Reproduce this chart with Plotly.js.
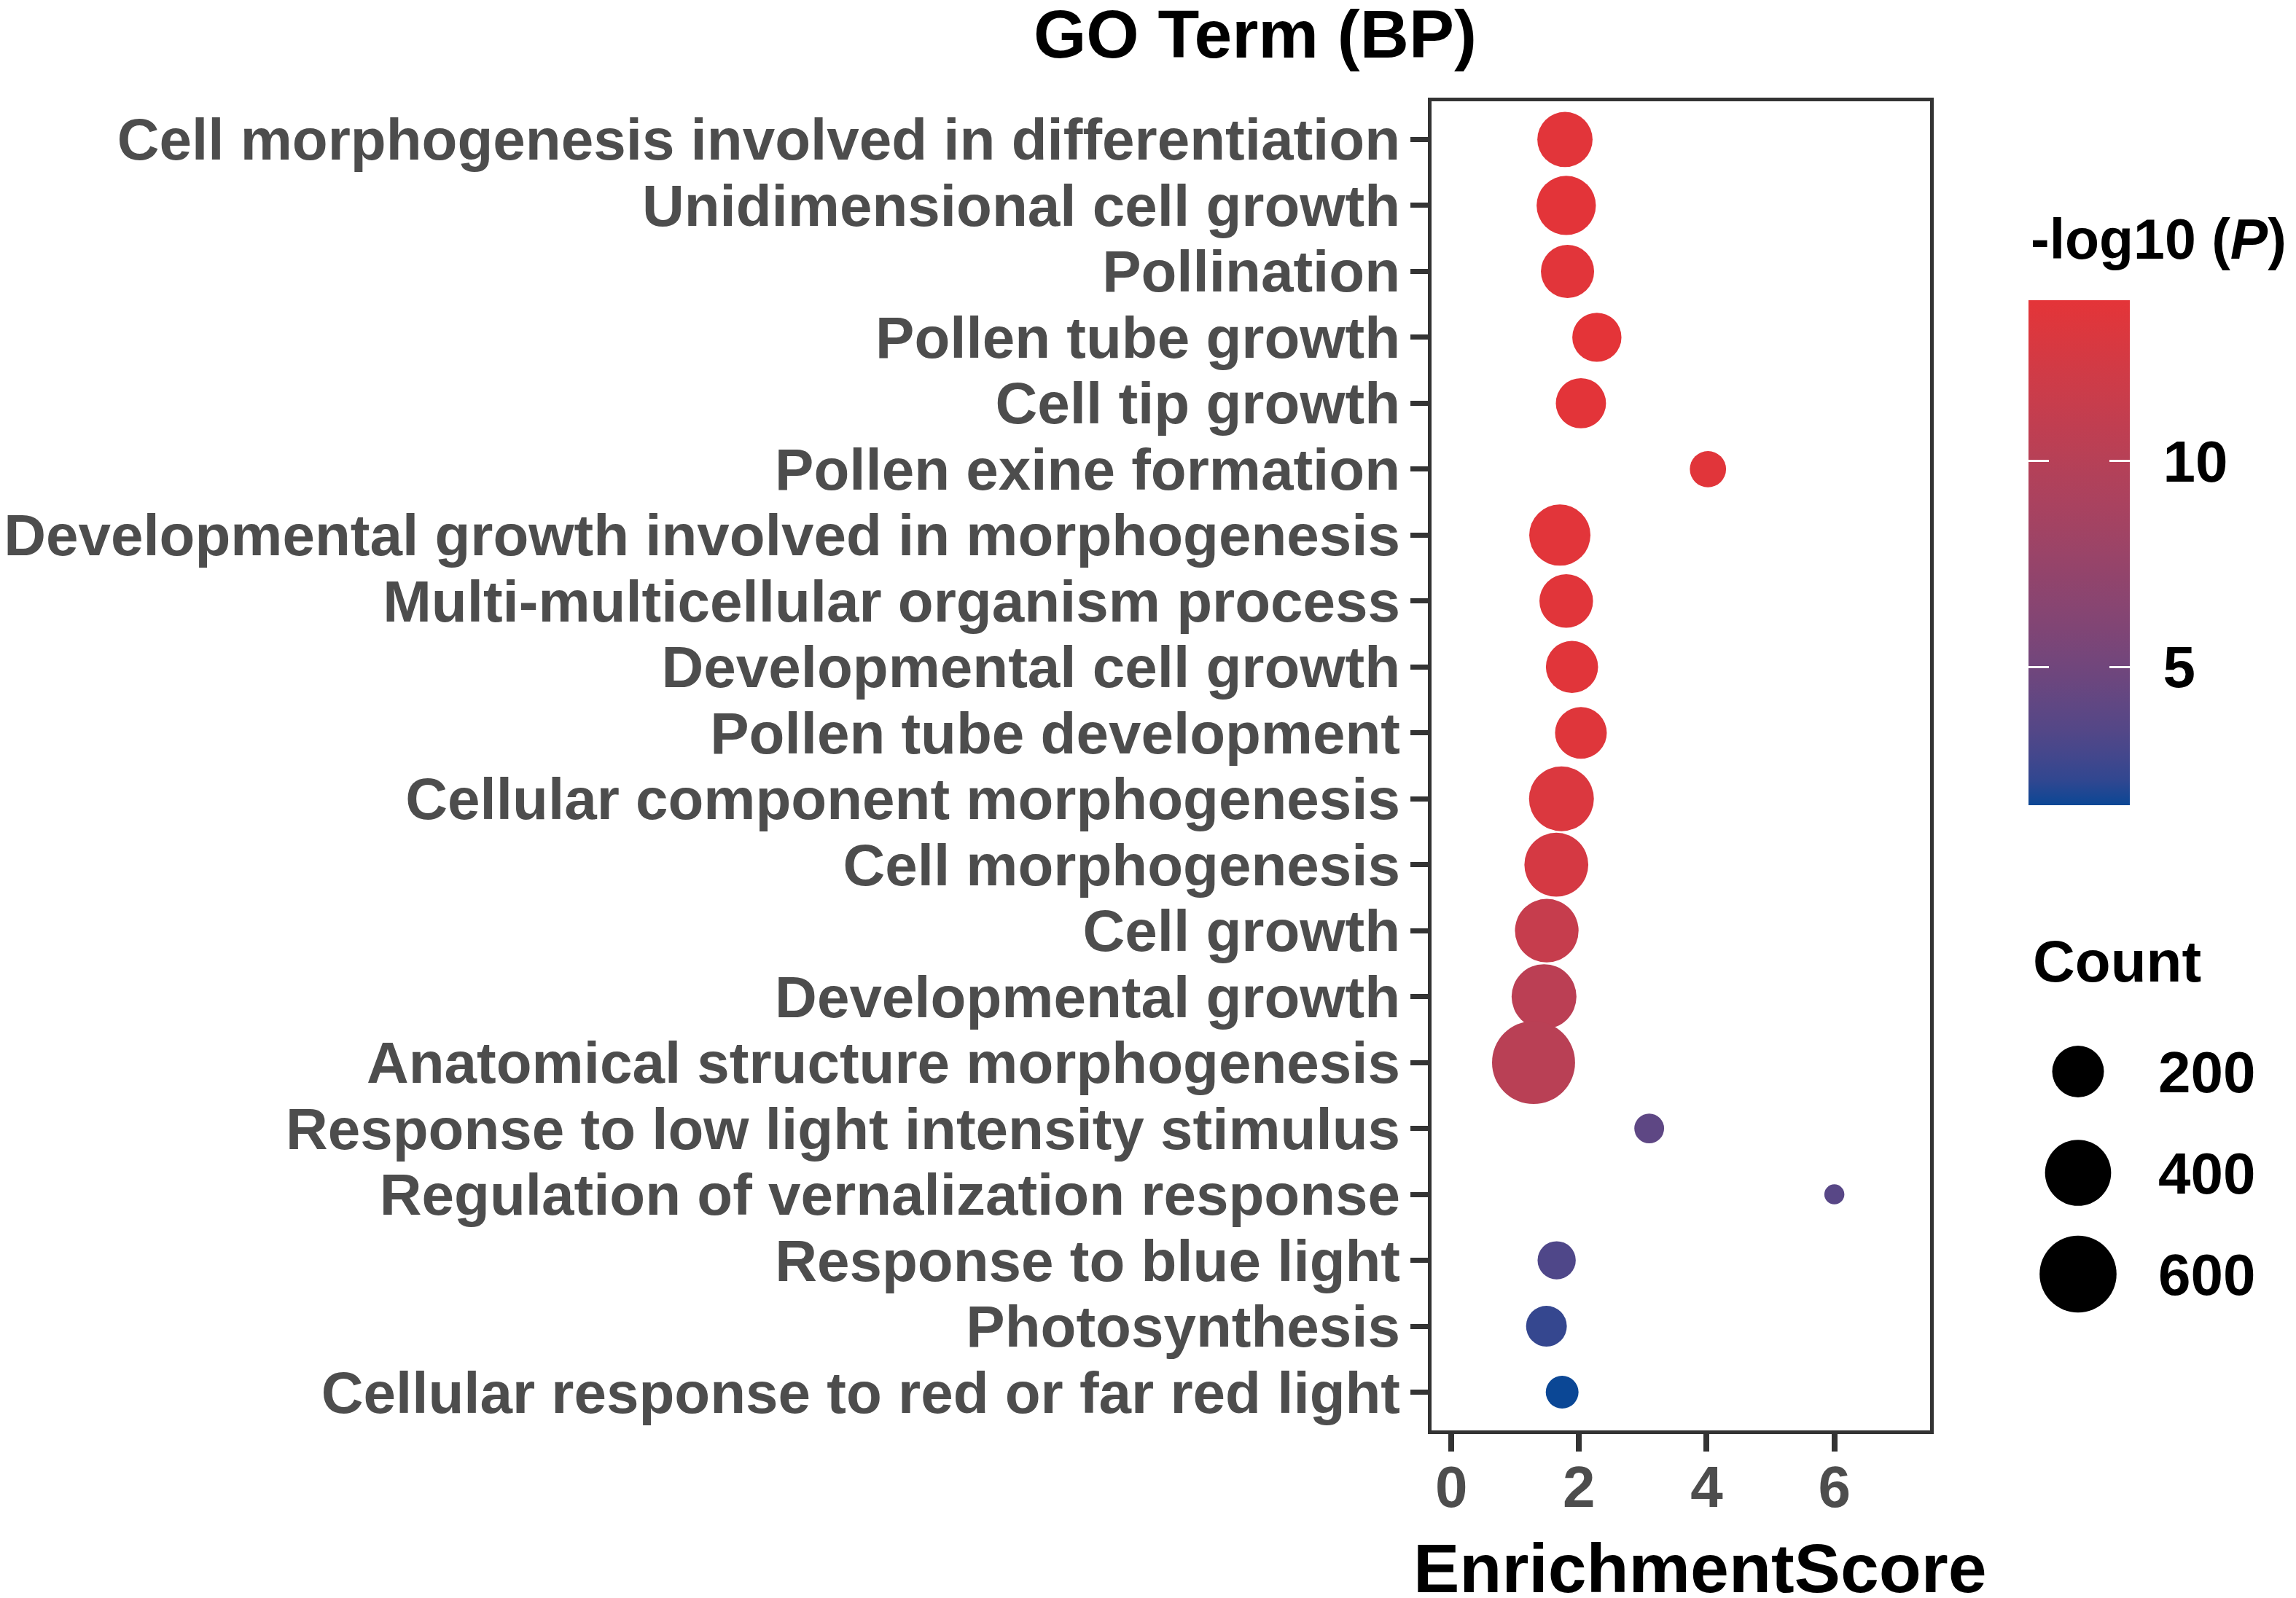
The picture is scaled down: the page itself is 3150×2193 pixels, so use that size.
<!DOCTYPE html>
<html>
<head>
<meta charset="utf-8">
<script src="https://cdn.plot.ly/plotly-3.0.1.min.js"></script>
<style>html,body{margin:0;padding:0;background:#fff;}</style>
</head>
<body>
<div id="chart" style="width:3150px;height:2193px;"></div>
<script>
// ---------------- data ----------------
const terms = [
  "Cell morphogenesis involved in differentiation",
  "Unidimensional cell growth",
  "Pollination",
  "Pollen tube growth",
  "Cell tip growth",
  "Pollen exine formation",
  "Developmental growth involved in morphogenesis",
  "Multi-multicellular organism process",
  "Developmental cell growth",
  "Pollen tube development",
  "Cellular component morphogenesis",
  "Cell morphogenesis",
  "Cell growth",
  "Developmental growth",
  "Anatomical structure morphogenesis",
  "Response to low light intensity stimulus",
  "Regulation of vernalization response",
  "Response to blue light",
  "Photosynthesis",
  "Cellular response to red or far red light"
];
const enrichmentScore = [1.78, 1.80, 1.82, 2.28, 2.03, 4.02, 1.70, 1.80, 1.89, 2.03,
                         1.725, 1.645, 1.495, 1.452, 1.288, 3.10, 6.00, 1.65, 1.49, 1.736];
const geneCount = [242, 296, 217, 172, 183, 67, 324, 222, 205, 200,
                   380, 365, 360, 380, 731, 37, 20, 79, 97, 49];
const negLog10P = [13.7, 13.8, 13.7, 13.9, 13.8, 13.6, 13.7, 13.6, 13.6, 13.5,
                   13.1, 12.6, 11.3, 10.4, 10.2, 4.0, 3.7, 3.3, 2.4, 1.65];
const xTickVals = [0, 2, 4, 6];
const colorTickVals = [5, 10];
const countBreaks = [200, 400, 600];

// ---------------- styling helpers ----------------
const W = 3150, H = 2193;
const FONT = "Liberation Sans, Arial, Helvetica, sans-serif";
const px = v => v / W;
const py = v => 1 - v / H;

// ggplot-like area size scale
const cMin = Math.min(...geneCount), cMax = Math.max(...geneCount);
const D_MIN = 27.5, D_MAX = 113.9;
const sizeOf = c => D_MIN + (D_MAX - D_MIN) * Math.sqrt(Math.max(0, (c - cMin) / (cMax - cMin)));

// Lab-interpolated gradient (like ggplot scale_colour_gradient)
const LOW = "#0B4795", HIGH = "#E43438";
const WP = [0.95047, 1, 1.08883];
function hex2rgb(h) { return [1, 3, 5].map(i => parseInt(h.substr(i, 2), 16)); }
function s2l(c) { c /= 255; return c <= 0.04045 ? c / 12.92 : Math.pow((c + 0.055) / 1.055, 2.4); }
function l2s(c) { c = c <= 0.0031308 ? 12.92 * c : 1.055 * Math.pow(c, 1 / 2.4) - 0.055; return Math.round(Math.max(0, Math.min(1, c)) * 255); }
function rgb2lab(rgb) {
  const [r, g, b] = rgb.map(s2l);
  const X = (0.4124 * r + 0.3576 * g + 0.1805 * b) / WP[0];
  const Y = (0.2126 * r + 0.7152 * g + 0.0722 * b) / WP[1];
  const Z = (0.0193 * r + 0.1192 * g + 0.9505 * b) / WP[2];
  const f = t => t > 0.008856 ? Math.cbrt(t) : 7.787 * t + 16 / 116;
  const fx = f(X), fy = f(Y), fz = f(Z);
  return [116 * fy - 16, 500 * (fx - fy), 200 * (fy - fz)];
}
function lab2rgb(lab) {
  const fy = (lab[0] + 16) / 116, fx = fy + lab[1] / 500, fz = fy - lab[2] / 200;
  const fi = t => t > 0.206893 ? t * t * t : (t - 16 / 116) / 7.787;
  const X = fi(fx) * WP[0], Y = fi(fy) * WP[1], Z = fi(fz) * WP[2];
  const r = 3.2406 * X - 1.5372 * Y - 0.4986 * Z;
  const g = -0.9689 * X + 1.8758 * Y + 0.0415 * Z;
  const b = 0.0557 * X - 0.2040 * Y + 1.0570 * Z;
  return [r, g, b].map(l2s);
}
const labLow = rgb2lab(hex2rgb(LOW)), labHigh = rgb2lab(hex2rgb(HIGH));
const colorscale = [];
for (let i = 0; i <= 20; i++) {
  const t = i / 20;
  const lab = labLow.map((v, k) => v + (labHigh[k] - v) * t);
  const c = lab2rgb(lab);
  colorscale.push([t, `rgb(${c[0]},${c[1]},${c[2]})`]);
}
const pMin = Math.min(...negLog10P), pMax = Math.max(...negLog10P);
const CLEAR = [[0, "rgba(0,0,0,0)"], [1, "rgba(0,0,0,0)"]];

// colour bar geometry (pixels)
const CB_LEFT = 2783, CB_TOP = 412, CB_LEN = 693, CB_THICK = 139, CB_TICK = 28;

const tickFont = {family: FONT, size: 80, weight: "bold", color: "#4D4D4D"};
const legFont = {family: FONT, size: 80, weight: "bold", color: "#000000"};

function cbBase(thick) {
  return {
    x: px(CB_LEFT), xanchor: "left", y: py(CB_TOP), yanchor: "top",
    len: CB_LEN, lenmode: "pixels", thickness: thick, thicknessmode: "pixels",
    outlinewidth: 0, xpad: 0, ypad: 0, bgcolor: "rgba(0,0,0,0)",
    tickmode: "array", tickvals: colorTickVals
  };
}

// ---------------- traces ----------------
const mainTrace = {
  type: "scatter", mode: "markers",
  x: enrichmentScore, y: terms,
  xaxis: "x", yaxis: "y",
  hoverinfo: "skip",
  marker: {
    size: geneCount.map(sizeOf), sizemode: "diameter",
    color: negLog10P, cmin: pMin, cmax: pMax, colorscale: colorscale,
    line: {width: 0}, opacity: 1,
    showscale: true,
    colorbar: Object.assign(cbBase(CB_THICK), {
      ticks: "outside", ticklen: 30, tickwidth: 1, tickcolor: "rgba(0,0,0,0)",
      tickfont: legFont
    })
  }
};
// transparent bars that only draw the white tick marks on both sides of the colour bar
const tickOverlayRight = {
  type: "scatter", mode: "markers", x: [null], y: [null], xaxis: "x", yaxis: "y", hoverinfo: "skip",
  marker: {
    color: [pMin], cmin: pMin, cmax: pMax, colorscale: CLEAR, opacity: 0, showscale: true,
    colorbar: Object.assign(cbBase(CB_THICK), {
      ticks: "inside", ticklen: CB_TICK, tickwidth: 3, tickcolor: "#FFFFFF", showticklabels: false
    })
  }
};
const tickOverlayLeft = {
  type: "scatter", mode: "markers", x: [null], y: [null], xaxis: "x", yaxis: "y", hoverinfo: "skip",
  marker: {
    color: [pMin], cmin: pMin, cmax: pMax, colorscale: CLEAR, opacity: 0, showscale: true,
    colorbar: Object.assign(cbBase(CB_TICK), {
      ticks: "inside", ticklen: CB_TICK, tickwidth: 3, tickcolor: "#FFFFFF", showticklabels: false
    })
  }
};
const sizeLegend = {
  type: "scatter", mode: "markers",
  x: countBreaks.map(() => 0.5), y: countBreaks.map(String),
  xaxis: "x2", yaxis: "y2", hoverinfo: "skip", cliponaxis: false,
  marker: {size: countBreaks.map(sizeOf), sizemode: "diameter", color: "#000000",
           opacity: 1, line: {width: 0}}
};

// ---------------- layout ----------------
const layout = {
  width: W, height: H,
  margin: {l: 0, r: 0, t: 0, b: 0, pad: 0},
  paper_bgcolor: "#FFFFFF", plot_bgcolor: "#FFFFFF",
  showlegend: false,
  font: {family: FONT, size: 80, color: "#000000"},
  title: {
    text: "GO Term (BP)", xref: "paper", yref: "paper",
    x: px(1722), xanchor: "center", y: py(14), yanchor: "top",
    font: {family: FONT, size: 93, weight: "bold", color: "#000000"}
  },
  xaxis: {
    domain: [px(1964), px(2648)], range: [-0.31, 7.50], anchor: "y",
    tickmode: "array", tickvals: xTickVals, ticktext: xTickVals.map(String),
    ticks: "outside", ticklen: 24, tickwidth: 8, tickcolor: "#333333",
    showline: true, mirror: true, linecolor: "#333333", linewidth: 5,
    showgrid: false, zeroline: false, tickfont: tickFont, ticklabelstandoff: -20
  },
  yaxis: {
    domain: [py(1963), py(139)], anchor: "x",
    type: "category", categoryorder: "array", categoryarray: terms,
    tickmode: "array", tickvals: terms, ticktext: terms,
    range: [terms.length - 1 + 0.58, -0.58],
    ticks: "outside", ticklen: 24, tickwidth: 7, tickcolor: "#333333",
    showline: true, mirror: true, linecolor: "#333333", linewidth: 5,
    showgrid: false, zeroline: false, tickfont: tickFont, ticklabelstandoff: -2
  },
  xaxis2: {domain: [px(2760), px(2942)], range: [0, 1], anchor: "y2", visible: false},
  yaxis2: {
    domain: [py(1818), py(1401)], anchor: "x2", side: "right",
    type: "category", categoryorder: "array", categoryarray: countBreaks.map(String),
    tickmode: "array", tickvals: countBreaks.map(String), ticktext: countBreaks.map(String),
    range: [countBreaks.length - 0.5, -0.5],
    showline: false, showgrid: false, zeroline: false, ticks: "",
    tickfont: legFont, ticklabelstandoff: 18
  },
  annotations: [
    {text: "-log10 (<i>P</i>)", xref: "paper", yref: "paper", x: px(2784), y: py(328),
     xanchor: "left", yanchor: "middle", showarrow: false,
     font: {family: FONT, size: 77, weight: "bold", color: "#000000"}},
    {text: "Count", xref: "paper", yref: "paper", x: px(2787), y: py(1319),
     xanchor: "left", yanchor: "middle", showarrow: false, font: legFont},
    {text: "EnrichmentScore", xref: "paper", yref: "paper", x: px(2332), y: py(2152),
     xanchor: "center", yanchor: "middle", showarrow: false,
     font: {family: FONT, size: 95, weight: "bold", color: "#000000"}}
  ]
};

Plotly.newPlot("chart", [mainTrace, tickOverlayRight, tickOverlayLeft, sizeLegend], layout,
               {staticPlot: true, displayModeBar: false});
</script>
</body>
</html>
